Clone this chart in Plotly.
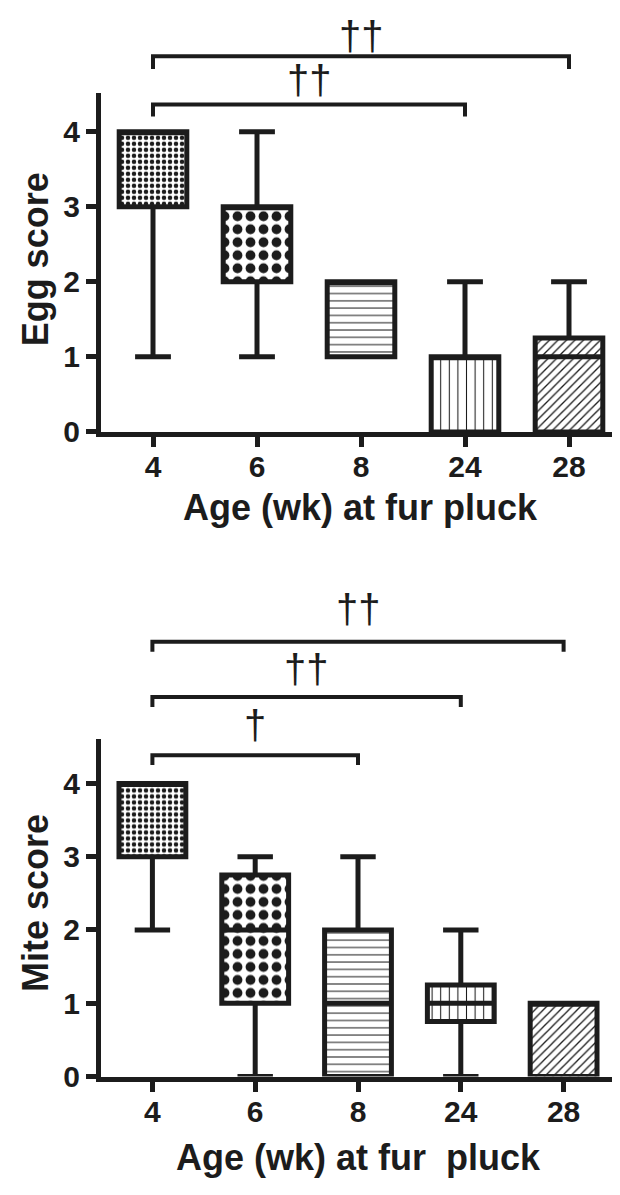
import plotly.graph_objects as go

# ---------------- data ----------------
categories = ["4", "6", "8", "24", "28"]

# Egg score (top panel) box statistics
egg_q1 = [3, 2, 1, 0, 0]
egg_median = [4, 3, 2, 1, 1]
egg_q3 = [4, 3, 2, 1, 1.25]
egg_low = [1, 1, 1, 0, 0]
egg_high = [4, 4, 2, 2, 2]

# Mite score (bottom panel) box statistics
mite_q1 = [3, 1, 0, 0.75, 0]
mite_median = [4, 2, 1, 1, 1]
mite_q3 = [4, 2.75, 2, 1.25, 1]
mite_low = [2, 0, 0, 0, 0]
mite_high = [4, 3, 3, 2, 1]

y_ticks = [0, 1, 2, 3, 4]

# significance comparisons (group a, group b, label)
egg_comparisons = [("4", "28", "††"), ("4", "24", "††")]
mite_comparisons = [("4", "28", "††"), ("4", "24", "††"), ("4", "8", "†")]

# ---------------- styling ----------------
W, H = 620, 1195
ML, MR = 93, 7
PW = W - ML - MR
INK = "#1c1c1c"
FONT = "Liberation Sans, Arial, sans-serif"

pattern_shapes = [".", ".", "-", "|", "/"]
pattern_sizes = [6, 13, 7.3, 8.6, 6]
pattern_solidity = [0.45, 0.45, 0.14, 0.12, 0.22]

BOX_W = 0.65
LW = 5


def py(p):
    return 1 - p / H


def px(p):
    return (p - ML) / PW


xpos = list(range(len(categories)))

fig = go.Figure()


def add_panel(q1, med, q3, lo, hi, xa, ya):
    fig.add_trace(go.Bar(
        x=xpos, y=[b - a for a, b in zip(q1, q3)], base=q1, width=BOX_W,
        marker=dict(color="white", line=dict(width=0),
                    pattern=dict(shape=pattern_shapes, size=pattern_sizes,
                                 solidity=pattern_solidity, fgcolor=INK,
                                 bgcolor="white", fillmode="replace")),
        xaxis=xa, yaxis=ya, showlegend=False, hoverinfo="skip"))
    fig.add_trace(go.Box(
        x=xpos, q1=q1, median=med, q3=q3, lowerfence=lo, upperfence=hi,
        width=BOX_W, whiskerwidth=0.53, boxpoints=False,
        fillcolor="rgba(0,0,0,0)", line=dict(color=INK, width=LW),
        xaxis=xa, yaxis=ya, showlegend=False, hoverinfo="skip"))


add_panel(egg_q1, egg_median, egg_q3, egg_low, egg_high, "x", "y")
add_panel(mite_q1, mite_median, mite_q3, mite_low, mite_high, "x2", "y2")

axis_common = dict(showline=True, linewidth=LW, linecolor=INK, ticks="outside",
                   ticklen=10, tickwidth=LW, tickcolor=INK, showgrid=False,
                   zeroline=False,
                   tickfont=dict(family=FONT, size=30, color=INK, weight="bold"))

fig.update_layout(
    width=W, height=H, plot_bgcolor="white", paper_bgcolor="white",
    margin=dict(l=ML, r=MR, t=0, b=0), showlegend=False,
    xaxis=dict(domain=[0, 1], range=[-0.5, 4.5], tickvals=xpos,
               ticktext=categories, anchor="y", ticklabelstandoff=-6,
               **axis_common),
    yaxis=dict(domain=[py(430), py(86)], range=[0, 4.52], tickvals=y_ticks,
               anchor="x", **axis_common),
    xaxis2=dict(domain=[0, px(607)], range=[-0.5, 4.5], tickvals=xpos,
                ticktext=categories, anchor="y2", ticklabelstandoff=-6,
                **axis_common),
    yaxis2=dict(domain=[py(1084), py(742)], range=[0, 4.6], tickvals=y_ticks,
                anchor="x2", **axis_common),
)

# axis titles
titles = [
    dict(text="<b>Egg score</b>", x=px(27), y=py(255), textangle=-90),
    dict(text="<b>Mite score</b>", x=px(27), y=py(908), textangle=-90),
    dict(text="<b>Age (wk) at fur pluck</b>", x=px(352), y=py(507), textangle=0),
    dict(text="<b>Age (wk) at fur&nbsp; pluck</b>", x=px(350), y=py(1166), textangle=0),
]
for t in titles:
    fig.add_annotation(xref="paper", yref="paper", x=t["x"], y=t["y"],
                       text=t["text"], textangle=t["textangle"],
                       showarrow=False, xanchor="center", yanchor="middle",
                       font=dict(family=FONT, size=36, color=INK))

# significance brackets: (bar y px, end y px, label centre y px)
egg_levels = [(49, 62, 28), (98, 110, 73)]
mite_levels = [(643, 653, 610), (699, 709, 671), (758, 768, 727)]


def add_brackets(comps, levels, xref):
    for (a, b, lab), (ybar, yend, ytxt) in zip(comps, levels):
        x0 = categories.index(a)
        x1 = categories.index(b)
        fig.add_shape(type="path", xref=xref, yref="paper",
                      path=f"M {x0},{py(yend)} L {x0},{py(ybar)} L {x1},{py(ybar)} L {x1},{py(yend)}",
                      line=dict(color=INK, width=4))
        fig.add_annotation(xref=xref, yref="paper", x=(x0 + x1) / 2, y=py(ytxt),
                           text=lab, showarrow=False, xanchor="center",
                           yanchor="middle",
                           font=dict(family=FONT, size=40, color=INK))


add_brackets(egg_comparisons, egg_levels, "x")
add_brackets(mite_comparisons, mite_levels, "x2")

fig.write_html("out.html")
